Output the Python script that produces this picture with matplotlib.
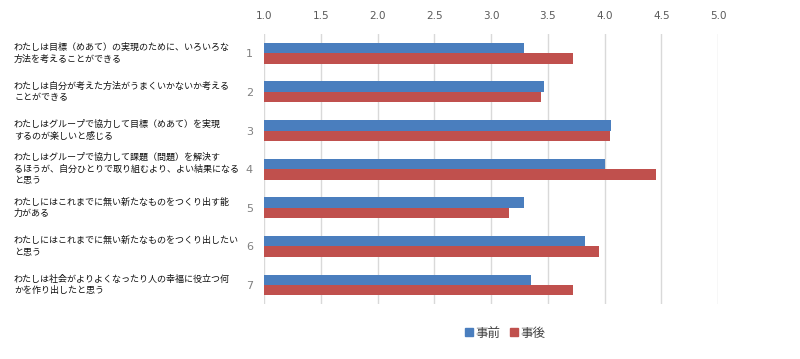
import numpy as np
import matplotlib
matplotlib.use('Agg')
import matplotlib.pyplot as plt
from matplotlib.patches import Patch
from matplotlib.transforms import blended_transform_factory

plt.rcParams['font.family'] = ['Noto Sans CJK JP', 'DejaVu Sans']

# data
item_numbers = ['1', '2', '3', '4', '5', '6', '7']
item_labels = [
    'わたしは目標（めあて）の実現のために、いろいろな\n方法を考えることができる',
    'わたしは自分が考えた方法がうまくいかないか考える\nことができる',
    'わたしはグループで協力して目標（めあて）を実現\nするのが楽しいと感じる',
    'わたしはグループで協力して課題（問題）を解決す\nるほうが、自分ひとりで取り組むより、よい結果になる\nと思う',
    'わたしにはこれまでに無い新たなものをつくり出す能\n力がある',
    'わたしにはこれまでに無い新たなものをつくり出したい\nと思う',
    'わたしは社会がよりよくなったり人の幸福に役立つ何\nかを作り出したと思う',
]
before = [3.29, 3.47, 4.06, 4.00, 3.29, 3.83, 3.35]   # 事前
after = [3.72, 3.44, 4.05, 4.45, 3.16, 3.95, 3.72]    # 事後
series_names = ['事前', '事後']
colors = ['#4a7ebe', '#c0504d']
x_ticks = [1.0, 1.5, 2.0, 2.5, 3.0, 3.5, 4.0, 4.5, 5.0]

fig = plt.figure(figsize=(8, 3.59), dpi=100)
ax = fig.add_axes([0.33, 0.1524, 0.5675, 0.7529])

y = np.arange(len(item_numbers))
h = 0.27
base = 1.0
ax.barh(y - h / 2, np.array(before) - base, height=h, left=base,
        color=colors[0], zorder=3)
ax.barh(y + h / 2, np.array(after) - base, height=h, left=base,
        color=colors[1], zorder=3)

ax.set_xlim(1.0, 5.0)
ax.set_ylim(6.5, -0.5)
ax.set_xticks(x_ticks)
ax.set_xticklabels([f'{t:.1f}' for t in x_ticks], family='DejaVu Sans',
                   fontsize=7.5, color='#595959')
ax.xaxis.tick_top()
ax.tick_params(axis='x', length=0, pad=9)
ax.set_yticks(y)
ax.set_yticklabels(item_numbers, family='DejaVu Sans', fontsize=8,
                   color='#808080')
ax.tick_params(axis='y', length=0, pad=8)
ax.grid(axis='x', color='#d9d9d9', linewidth=1, zorder=0)
for s in ax.spines.values():
    s.set_visible(False)

trans = blended_transform_factory(fig.transFigure, ax.transData)
for yi, lab in zip(y, item_labels):
    ax.text(14 / 800, yi, lab, transform=trans, ha='left', va='center',
            fontsize=6.5, color='#111111', linespacing=1.35)

handles = [Patch(color=c, label=n) for c, n in zip(colors, series_names)]
fig.legend(handles=handles, loc='center', bbox_to_anchor=(505 / 800, 0.072),
           ncol=2, frameon=False, fontsize=9, handlelength=0.6,
           handleheight=0.6, handletextpad=0.2, columnspacing=0.8,
           labelcolor='#404040')

fig.savefig('out.png', dpi=100)
